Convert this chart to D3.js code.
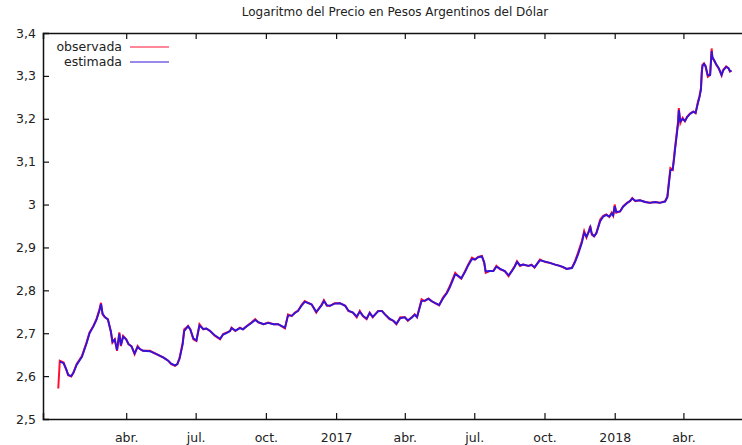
<!DOCTYPE html>
<html>
<head>
<meta charset="utf-8">
<script src="https://cdn.jsdelivr.net/npm/d3@7"></script>
<style>
  body { margin: 0; background: #fff; }
  svg text { font-family: "DejaVu Sans", Verdana, sans-serif; fill: #222; }
</style>
</head>
<body>
<svg width="742" height="445"></svg>
<script>
var titulo = "Logaritmo del Precio en Pesos Argentinos del Dólar";

// fechas de las observaciones
var fechas = [
  "2016-01-03","2016-01-05","2016-01-10","2016-01-14","2016-01-16","2016-01-20","2016-01-23","2016-01-27",
  "2016-02-03","2016-02-09","2016-02-13","2016-02-18","2016-02-22","2016-02-26","2016-02-28","2016-03-01",
  "2016-03-04","2016-03-08","2016-03-12","2016-03-14","2016-03-17","2016-03-20","2016-03-23","2016-03-25",
  "2016-03-28","2016-04-01","2016-04-04","2016-04-08","2016-04-12","2016-04-16","2016-04-19","2016-04-23",
  "2016-05-02","2016-05-11","2016-05-20","2016-05-26","2016-05-30","2016-06-04","2016-06-07","2016-06-10",
  "2016-06-14","2016-06-16","2016-06-19","2016-06-21","2016-06-24","2016-06-28","2016-07-02","2016-07-06",
  "2016-07-11","2016-07-15","2016-07-20","2016-07-26","2016-08-02","2016-08-06","2016-08-11","2016-08-15",
  "2016-08-17","2016-08-22","2016-08-28","2016-09-01","2016-09-06","2016-09-12","2016-09-17","2016-09-21",
  "2016-09-28","2016-10-04","2016-10-11","2016-10-17","2016-10-26","2016-10-30","2016-11-04","2016-11-08",
  "2016-11-12","2016-11-17","2016-11-21","2016-11-25","2016-11-30","2016-12-06","2016-12-13","2016-12-16",
  "2016-12-20","2016-12-24","2016-12-30","2017-01-06","2017-01-13","2017-01-17","2017-01-23","2017-01-28",
  "2017-02-01","2017-02-05","2017-02-10","2017-02-14","2017-02-18","2017-02-25","2017-03-02","2017-03-06",
  "2017-03-12","2017-03-17","2017-03-21","2017-03-26","2017-04-01","2017-04-05","2017-04-10","2017-04-14",
  "2017-04-17","2017-04-23","2017-04-27","2017-05-02","2017-05-06","2017-05-10","2017-05-16","2017-05-21",
  "2017-05-26","2017-05-30","2017-06-06","2017-06-10","2017-06-14","2017-06-19","2017-06-23","2017-06-28",
  "2017-07-02","2017-07-06","2017-07-11","2017-07-14","2017-07-16","2017-07-21","2017-07-26","2017-07-30",
  "2017-08-04","2017-08-10","2017-08-15","2017-08-19","2017-08-23","2017-08-26","2017-08-30","2017-09-03",
  "2017-09-10","2017-09-14","2017-09-18","2017-09-25","2017-10-02","2017-10-08","2017-10-15","2017-10-21",
  "2017-10-26","2017-10-30","2017-11-06","2017-11-10","2017-11-14","2017-11-19","2017-11-22","2017-11-25",
  "2017-11-28","2017-11-30","2017-12-02","2017-12-05","2017-12-08","2017-12-13","2017-12-17","2017-12-21",
  "2017-12-25","2017-12-28","2017-12-30","2018-01-01","2018-01-03","2018-01-08","2018-01-12","2018-01-17",
  "2018-01-21","2018-01-24","2018-01-28","2018-02-03","2018-02-10","2018-02-16","2018-02-23","2018-03-01",
  "2018-03-08","2018-03-11","2018-03-13","2018-03-15","2018-03-18","2018-03-20","2018-03-21","2018-03-23",
  "2018-03-25","2018-03-26","2018-03-28","2018-03-31","2018-04-03","2018-04-06","2018-04-10","2018-04-14",
  "2018-04-17","2018-04-20","2018-04-22","2018-04-24","2018-04-25","2018-04-26","2018-04-28","2018-04-30",
  "2018-05-03","2018-05-06","2018-05-08","2018-05-09","2018-05-11","2018-05-14","2018-05-17","2018-05-19",
  "2018-05-21","2018-05-23","2018-05-27","2018-05-30","2018-06-01","2018-06-03"
];

// log del precio observado
var observada = [
  2.571,2.636,2.632,2.612,2.602,2.599,2.609,2.628,
  2.647,2.678,2.702,2.717,2.733,2.756,2.771,2.744,
  2.737,2.733,2.702,2.678,2.686,2.659,2.702,2.670,
  2.694,2.686,2.674,2.670,2.651,2.670,2.663,2.659,
  2.659,2.651,2.643,2.636,2.628,2.624,2.628,2.643,
  2.678,2.709,2.713,2.717,2.709,2.686,2.682,2.721,
  2.709,2.711,2.705,2.694,2.686,2.698,2.702,2.705,
  2.713,2.705,2.713,2.709,2.717,2.725,2.733,2.725,
  2.721,2.725,2.721,2.721,2.711,2.744,2.740,2.748,
  2.752,2.767,2.775,2.771,2.767,2.748,2.767,2.777,
  2.764,2.764,2.770,2.770,2.764,2.752,2.748,2.737,
  2.752,2.740,2.733,2.748,2.737,2.752,2.752,2.744,
  2.733,2.729,2.721,2.737,2.737,2.729,2.737,2.744,
  2.737,2.779,2.775,2.781,2.775,2.771,2.765,2.783,
  2.795,2.810,2.841,2.833,2.827,2.845,2.860,2.876,
  2.872,2.878,2.880,2.864,2.841,2.845,2.845,2.857,
  2.849,2.845,2.833,2.845,2.857,2.868,2.857,2.860,
  2.857,2.860,2.853,2.872,2.866,2.864,2.860,2.857,
  2.853,2.850,2.853,2.868,2.888,2.915,2.938,2.923,
  2.938,2.950,2.930,2.926,2.934,2.965,2.974,2.977,
  2.971,2.981,2.974,3.000,2.981,2.984,2.996,3.004,
  3.008,3.015,3.008,3.010,3.006,3.004,3.006,3.004,
  3.008,3.019,3.054,3.085,3.081,3.116,3.132,3.163,
  3.194,3.225,3.190,3.202,3.194,3.205,3.213,3.217,
  3.213,3.240,3.252,3.272,3.310,3.326,3.329,3.322,
  3.298,3.302,3.364,3.341,3.337,3.326,3.318,3.310,
  3.301,3.314,3.322,3.318,3.310,3.312
];

// log del precio estimado (sin valor en la primera fecha)
var estimada = [
  null,2.634,2.630,2.614,2.603,2.600,2.608,2.626,
  2.645,2.676,2.700,2.716,2.731,2.753,2.768,2.746,
  2.738,2.732,2.704,2.680,2.685,2.661,2.699,2.672,
  2.692,2.686,2.675,2.669,2.653,2.668,2.663,2.659,
  2.658,2.651,2.643,2.636,2.629,2.625,2.628,2.641,
  2.674,2.705,2.712,2.716,2.709,2.688,2.683,2.718,
  2.710,2.711,2.705,2.695,2.687,2.697,2.701,2.705,
  2.712,2.706,2.712,2.709,2.716,2.724,2.731,2.726,
  2.721,2.724,2.721,2.721,2.713,2.741,2.741,2.747,
  2.752,2.765,2.773,2.771,2.767,2.750,2.765,2.775,
  2.765,2.764,2.769,2.770,2.764,2.753,2.748,2.739,
  2.750,2.741,2.734,2.747,2.738,2.751,2.752,2.744,
  2.734,2.729,2.722,2.735,2.737,2.730,2.736,2.743,
  2.738,2.775,2.776,2.780,2.775,2.771,2.766,2.781,
  2.793,2.807,2.837,2.834,2.828,2.843,2.858,2.873,
  2.872,2.877,2.879,2.866,2.844,2.845,2.845,2.855,
  2.850,2.845,2.835,2.844,2.855,2.866,2.858,2.860,
  2.857,2.859,2.854,2.870,2.867,2.864,2.860,2.857,
  2.854,2.850,2.852,2.866,2.884,2.911,2.934,2.925,
  2.936,2.947,2.932,2.926,2.933,2.961,2.972,2.976,
  2.972,2.979,2.975,2.996,2.983,2.984,2.995,3.003,
  3.008,3.014,3.009,3.010,3.006,3.004,3.006,3.004,
  3.007,3.017,3.048,3.080,3.082,3.110,3.128,3.158,
  3.189,3.220,3.194,3.200,3.195,3.204,3.212,3.216,
  3.214,3.236,3.250,3.268,3.304,3.323,3.328,3.323,
  3.301,3.302,3.358,3.344,3.337,3.327,3.319,3.311,
  3.302,3.312,3.321,3.318,3.311,3.312
];

var tickFechas = ["2016-04-01","2016-07-01","2016-10-01","2017-01-01","2017-04-01","2017-07-01","2017-10-01","2018-01-01","2018-04-01"];
var tickEtiquetas = ["abr.","jul.","oct.","2017","abr.","jul.","oct.","2018","abr."];
var yTicks = [2.5, 2.6, 2.7, 2.8, 2.9, 3, 3.1, 3.2, 3.3, 3.4];

var parse = d3.timeParse("%Y-%m-%d");
var svg = d3.select("svg");

var mLeft = 43, mRight = 746, mTop = 33, mBottom = 419;

var x = d3.scaleTime()
  .domain([parse("2015-12-14"), parse("2018-06-22")])
  .range([mLeft, mRight]);

var y = d3.scaleLinear()
  .domain([2.5, 3.4])
  .range([mBottom, mTop]);

var serieObs = fechas.map(function(f, i) { return {t: parse(f), v: observada[i]}; });
var serieEst = fechas.map(function(f, i) { return {t: parse(f), v: estimada[i]}; });

var line = d3.line()
  .defined(function(d) { return d.v != null; })
  .x(function(d) { return x(d.t); })
  .y(function(d) { return y(d.v); });

// titulo
svg.append("text")
  .attr("x", 395).attr("y", 16)
  .attr("text-anchor", "middle")
  .style("font-size", "12px")
  .text(titulo);

// lineas
svg.append("path").datum(serieObs)
  .attr("d", line).attr("fill", "none")
  .attr("stroke", "#ff1030").attr("stroke-width", 2);
svg.append("path").datum(serieEst)
  .attr("d", line).attr("fill", "none")
  .attr("stroke", "#3414d8").attr("stroke-width", 1.9);

// ejes
var tickVals = tickFechas.map(parse);

var xAxis = d3.axisBottom(x).tickValues(tickVals)
  .tickFormat(function(d, i) { return tickEtiquetas[i]; })
  .tickSize(-6).tickPadding(14);
var gx = svg.append("g").attr("transform", "translate(0," + mBottom + ")").call(xAxis);

var xTop = d3.axisTop(x).tickValues(tickVals).tickFormat("").tickSize(-6);
var gt = svg.append("g").attr("transform", "translate(0," + mTop + ")").call(xTop);

var yAxis = d3.axisLeft(y).tickValues(yTicks)
  .tickFormat(function(d) { return String(d).replace(".", ","); })
  .tickSize(-6).tickPadding(7);
var gy = svg.append("g").attr("transform", "translate(" + mLeft + ",0)").call(yAxis);

[gx, gt, gy].forEach(function(g) {
  g.select(".domain").attr("stroke", "#111").attr("stroke-width", 1.5);
  g.selectAll(".tick line").attr("stroke", "#111").attr("stroke-width", 1.2);
  g.selectAll(".tick text").style("font-size", "12.5px").attr("fill", "#222")
    .style("font-family", "'DejaVu Sans', Verdana, sans-serif");
});
gy.selectAll(".tick").filter(function(d) { return d === 2.5 || d === 3.4; }).select("line").remove();

// leyenda
var leyenda = [["observada", "#ff1030"], ["estimada", "#3414d8"]];
leyenda.forEach(function(l, i) {
  var yy = 47 + i * 15;
  svg.append("text").attr("x", 122).attr("y", yy + 4)
    .attr("text-anchor", "end").style("font-size", "12.5px").text(l[0]);
  svg.append("line").attr("x1", 130).attr("x2", 169).attr("y1", yy).attr("y2", yy)
    .attr("stroke", l[1]).attr("stroke-width", 1.2);
});
</script>
</body>
</html>
